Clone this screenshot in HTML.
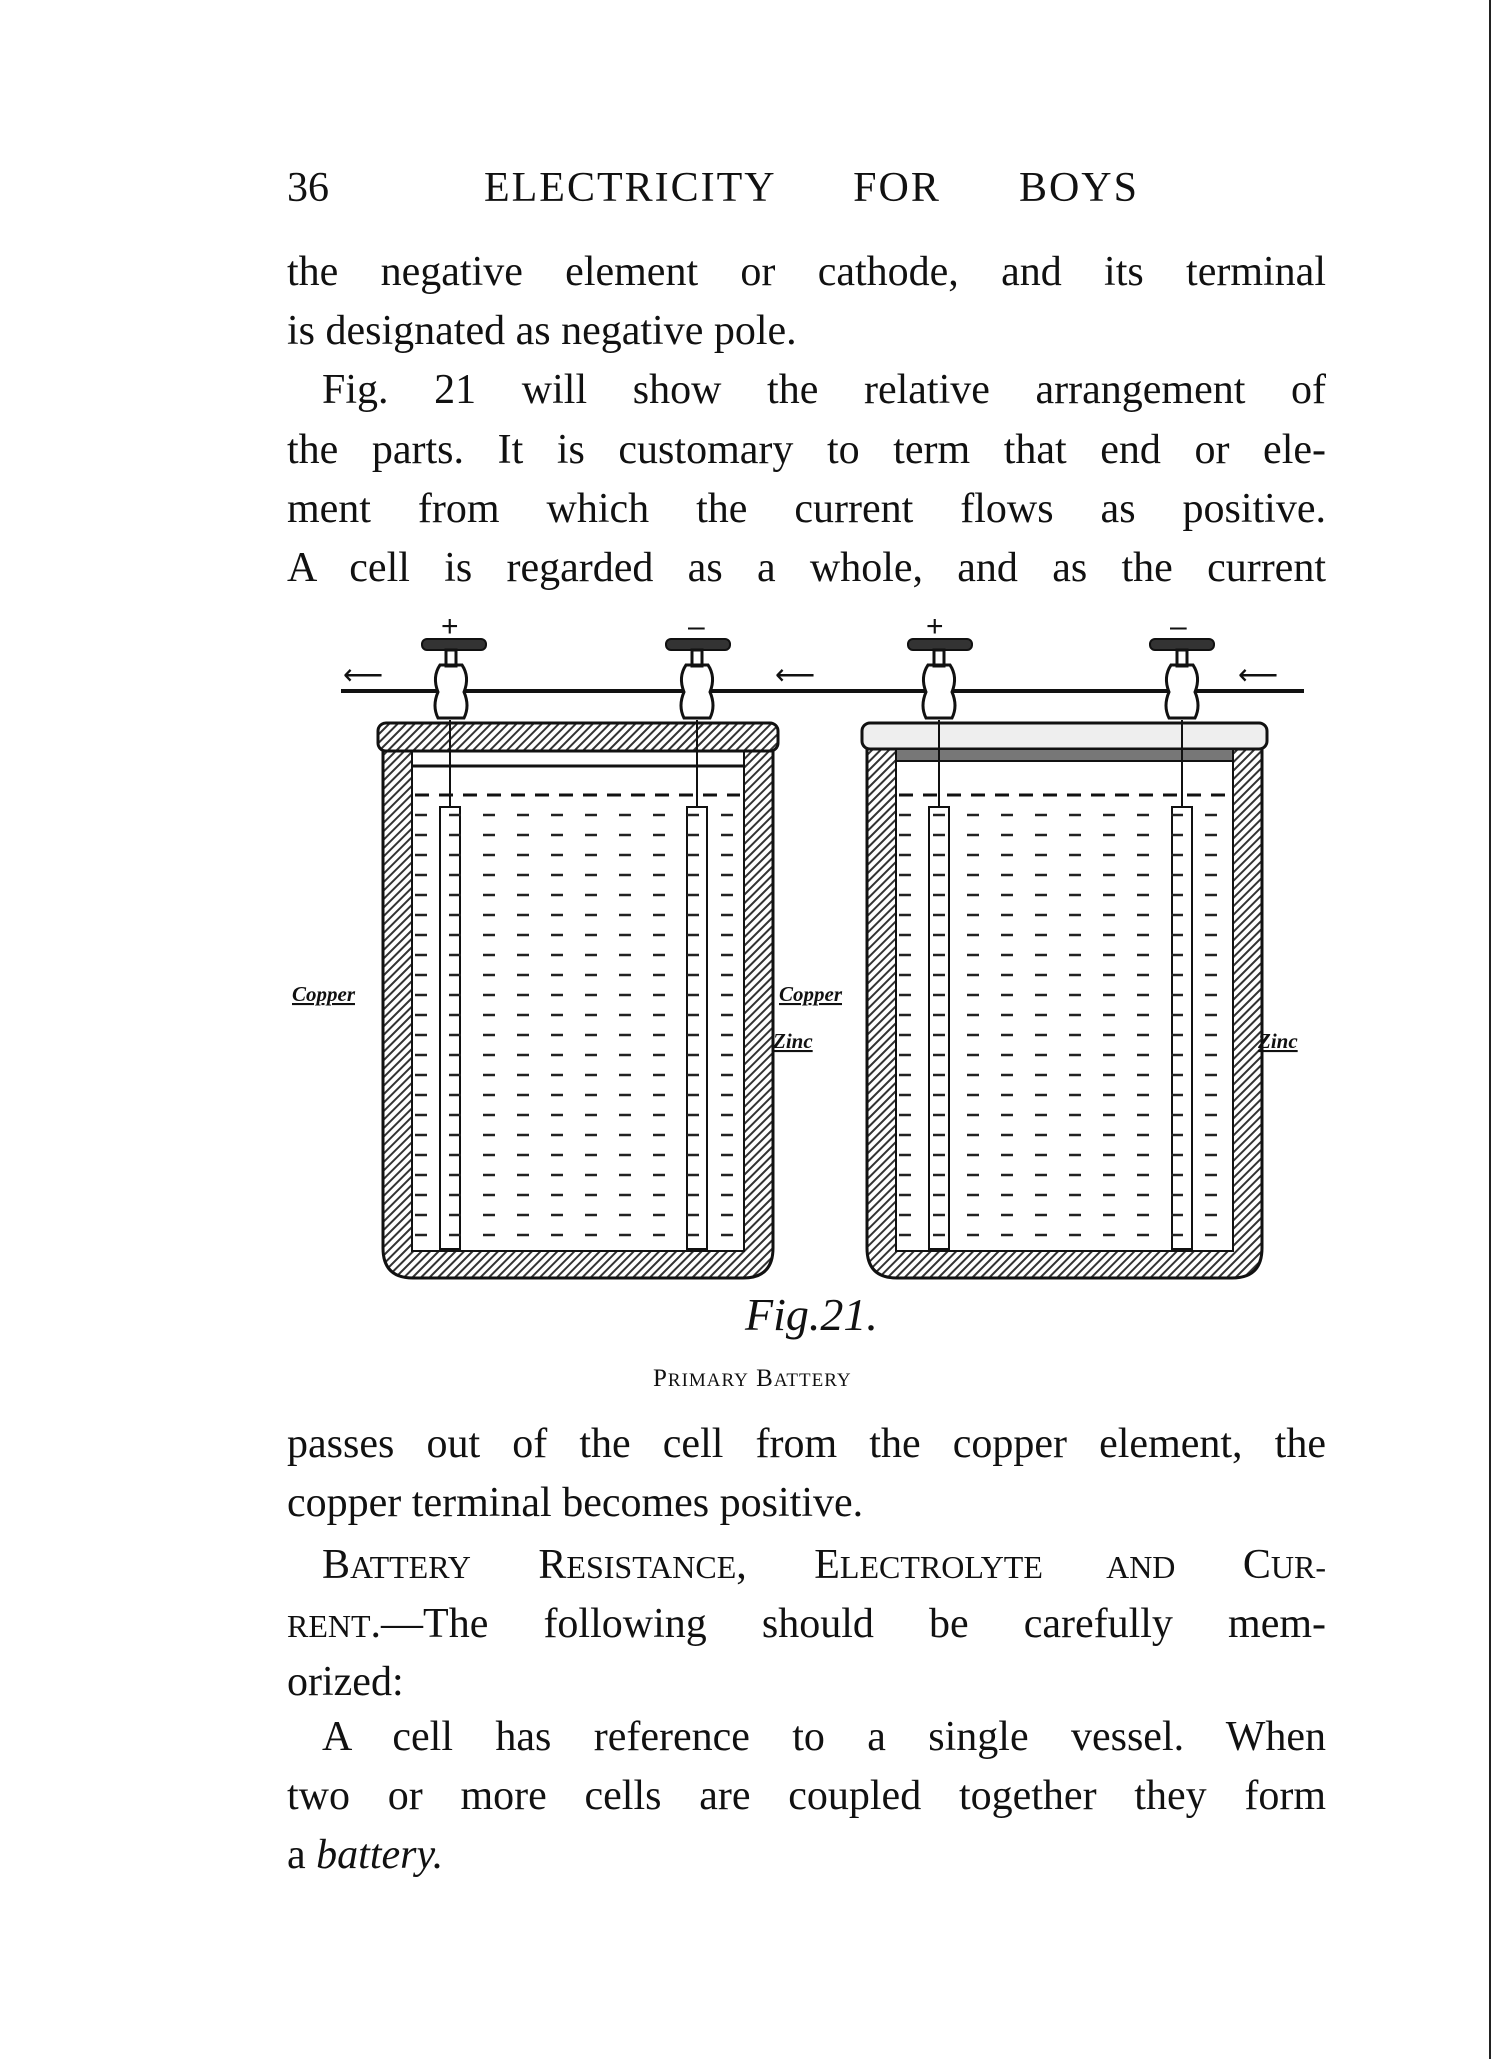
<!DOCTYPE html>
<html><head><meta charset="utf-8"><style>
body{margin:0;background:#fff;}
#p{position:relative;width:1506px;height:2059px;overflow:hidden;background:#fff;font-family:"Liberation Serif",serif;color:#111;}
.l{position:absolute;left:287px;width:1039px;font-size:42px;line-height:48px;text-align:justify;text-align-last:justify;white-space:nowrap;}
.sc{font-size:32px;}
</style></head><body><div id="p">
<div style="position:absolute;left:287px;top:164px;font-size:42px;">36</div>
<div style="position:absolute;left:484px;top:164px;width:655px;font-size:42px;text-align-last:justify;letter-spacing:2px">ELECTRICITY FOR BOYS</div>
<div class="l" style="top:248px">the negative element or cathode, and its terminal</div>
<div class="l" style="top:307px;text-align-last:left">is designated as negative pole.</div>
<div class="l" style="top:366px;left:322px;width:1004px">Fig. 21 will show the relative arrangement of</div>
<div class="l" style="top:426px">the parts. It is customary to term that end or ele-</div>
<div class="l" style="top:485px">ment from which the current flows as positive.</div>
<div class="l" style="top:544px">A cell is regarded as a whole, and as the current</div>

<svg style="position:absolute;left:0;top:0" width="1506" height="2059">
<defs>
<pattern id="h" width="6" height="6" patternUnits="userSpaceOnUse" patternTransform="rotate(45)"><rect width="6" height="6" fill="#fff"/><rect width="2" height="6" fill="#333"/></pattern>
</defs>
<line x1="341" y1="691" x2="1304" y2="691" stroke="#111" stroke-width="4"/>
<g font-size="30" fill="#111" font-family="Liberation Sans">
<text x="441" y="636">+</text><text x="688" y="636">–</text><text x="926" y="636">+</text><text x="1170" y="636">–</text>
<text x="343" y="684" font-size="28">⟵</text><text x="775" y="684" font-size="28">⟵</text><text x="1238" y="684" font-size="28">⟵</text>
</g>
<!-- left jar -->
<path d="M383 740 h390 v508 q0 30 -30 30 h-330 q-30 0 -30 -30z" fill="url(#h)" stroke="#111" stroke-width="3"/>
<rect x="412" y="749" width="332" height="502" fill="#fff" stroke="#111" stroke-width="2"/>
<rect x="378" y="723" width="400" height="28" fill="url(#h)" stroke="#111" stroke-width="3" rx="8"/>
<line x1="412" y1="766" x2="744" y2="766" stroke="#111" stroke-width="3"/>
<!-- right jar -->
<path d="M867 745 h395 v503 q0 30 -30 30 h-335 q-30 0 -30 -30z" fill="url(#h)" stroke="#111" stroke-width="3"/>
<rect x="896" y="758" width="337" height="493" fill="#fff" stroke="#111" stroke-width="2"/>
<rect x="862" y="723" width="405" height="26" fill="#eee" stroke="#111" stroke-width="3" rx="8"/>
<rect x="896" y="749" width="337" height="12" fill="#777" stroke="#111" stroke-width="2"/>
<g stroke="#111" stroke-width="2" fill="#fff">
<rect x="440" y="807" width="20" height="442"/><rect x="687" y="807" width="20" height="442"/>
<rect x="929" y="807" width="20" height="442"/><rect x="1172" y="807" width="20" height="442"/>
<line x1="450" y1="720" x2="450" y2="807"/><line x1="697" y1="720" x2="697" y2="807"/>
<line x1="939" y1="720" x2="939" y2="807"/><line x1="1182" y1="720" x2="1182" y2="807"/>
</g>
<g stroke="#111" stroke-width="3" stroke-dasharray="14 10">
<line x1="415" y1="795" x2="740" y2="795"/><line x1="899" y1="795" x2="1230" y2="795"/>
</g>
<g stroke="#222" stroke-width="2.5" stroke-dasharray="12 22">
<path d="M415 815H740M415 835H740M415 855H740M415 875H740M415 895H740M415 915H740M415 935H740M415 955H740M415 975H740M415 995H740M415 1015H740M415 1035H740M415 1055H740M415 1075H740M415 1095H740M415 1115H740M415 1135H740M415 1155H740M415 1175H740M415 1195H740M415 1215H740M415 1235H740"/>
<path d="M899 815H1230M899 835H1230M899 855H1230M899 875H1230M899 895H1230M899 915H1230M899 935H1230M899 955H1230M899 975H1230M899 995H1230M899 1015H1230M899 1035H1230M899 1055H1230M899 1075H1230M899 1095H1230M899 1115H1230M899 1135H1230M899 1155H1230M899 1175H1230M899 1195H1230M899 1215H1230M899 1235H1230"/>
</g>
<g fill="#333" stroke="#111" stroke-width="2">
<rect x="422" y="639" width="64" height="11" rx="5"/><rect x="666" y="639" width="64" height="11" rx="5"/>
<rect x="908" y="639" width="64" height="11" rx="5"/><rect x="1150" y="639" width="64" height="11" rx="5"/>
</g>
<g fill="#fff" stroke="#111" stroke-width="3">
<path d="M446 650h10v16h-10zM440 665q-8 12 -2 27q-6 14 0 26h26q6 -12 0 -26q6 -15 -2 -27z"/>
<path d="M692 650h10v16h-10zM686 665q-8 12 -2 27q-6 14 0 26h26q6 -12 0 -26q6 -15 -2 -27z"/>
<path d="M934 650h10v16h-10zM928 665q-8 12 -2 27q-6 14 0 26h26q6 -12 0 -26q6 -15 -2 -27z"/>
<path d="M1177 650h10v16h-10zM1171 665q-8 12 -2 27q-6 14 0 26h26q6 -12 0 -26q6 -15 -2 -27z"/>
</g>
<g font-family="Liberation Serif" font-style="italic" font-weight="bold" font-size="21" fill="#111" text-decoration="underline">
<text x="292" y="1001">Copper</text><text x="779" y="1001">Copper</text>
<text x="773" y="1048">Zinc</text><text x="1258" y="1048">Zinc</text>
</g>
<text x="745" y="1330" font-family="Liberation Serif" font-style="italic" font-size="46" fill="#111">Fig.21.</text>
<line x1="1490" y1="0" x2="1490" y2="2059" stroke="#222" stroke-width="2"/>
</svg>
<div style="position:absolute;left:653px;top:1365px;font-size:25px;letter-spacing:1px">P<span style="font-size:19px">RIMARY</span> B<span style="font-size:19px">ATTERY</span></div>

<div class="l" style="top:1420px">passes out of the cell from the copper element, the</div>
<div class="l" style="top:1479px;text-align-last:left">copper terminal becomes positive.</div>
<div class="l" style="top:1541px;left:322px;width:1004px">B<span class="sc">ATTERY</span> R<span class="sc">ESISTANCE</span>, E<span class="sc">LECTROLYTE AND</span> C<span class="sc">UR-</span></div>
<div class="l" style="top:1600px"><span class="sc">RENT</span>.—The following should be carefully mem-</div>
<div class="l" style="top:1658px;text-align-last:left">orized:</div>
<div class="l" style="top:1713px;left:322px;width:1004px">A cell has reference to a single vessel. When</div>
<div class="l" style="top:1772px">two or more cells are coupled together they form</div>
<div class="l" style="top:1831px;text-align-last:left">a <i>battery.</i></div>
</div></body></html>
